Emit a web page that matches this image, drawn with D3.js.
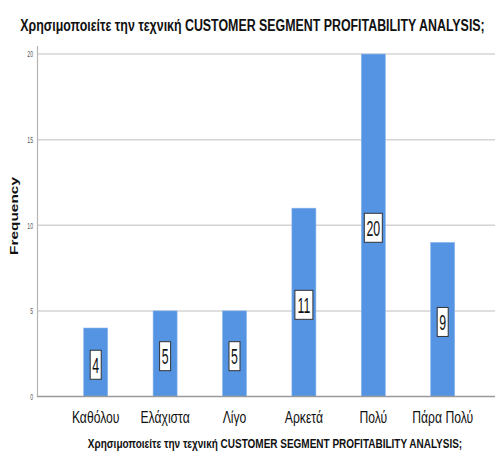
<!DOCTYPE html>
<html>
<head>
<meta charset="utf-8">
<script src="https://cdn.jsdelivr.net/npm/d3@7"></script>
<style>
  html, body { margin: 0; padding: 0; background: #fff; }
  svg { display: block; }
  text { font-family: "Liberation Sans", Arial, sans-serif; }
</style>
</head>
<body>
<svg id="chart" width="497" height="457"></svg>
<script>
// Frequency of answers per category
const categories = ["Καθόλου", "Ελάχιστα", "Λίγο", "Αρκετά", "Πολύ", "Πάρα Πολύ"];
const frequencies = [4, 5, 5, 11, 20, 9];
const yTicks = [0, 5, 10, 15, 20];
const titleText = "Χρησιμοποιείτε την τεχνική CUSTOMER SEGMENT PROFITABILITY ANALYSIS;";
const yAxisTitle = "Frequency";

const svg = d3.select("#chart");

// Place a text at (cx, cy), stretching it horizontally (in its own frame)
// either to a fixed width or by a factor of its natural width
function placeText(sel, cx, cy, opts) {
  sel.each(function (d, i) {
    const w = this.getComputedTextLength();
    const px = typeof cx === "function" ? cx(d, i) : cx;
    const k = opts.width ? opts.width / w : opts.factor;
    const rot = opts.rotate ? ` rotate(${opts.rotate})` : "";
    d3.select(this).attr("transform", `translate(${px},${cy})${rot} scale(${k},1)`);
  });
}

const x = d3.scaleBand()
  .domain(categories)
  .range([61, 477.4])
  .paddingInner(0.654)
  .paddingOuter(0.327);

const y = d3.scaleLinear()
  .domain([0, 20.5])
  .range([396.5, 45.5]);

// Gridlines
svg.append("g")
  .selectAll("line")
  .data(yTicks.filter(d => d > 0))
  .join("line")
  .attr("x1", 37).attr("x2", 495)
  .attr("y1", d => y(d)).attr("y2", d => y(d))
  .attr("stroke", "#d4d4d4")
  .attr("stroke-width", 1.5);

// Y axis
const yAxis = svg.append("g")
  .attr("transform", "translate(37,0)")
  .call(d3.axisLeft(y).tickValues(yTicks).tickSize(0).tickPadding(4));
yAxis.select(".domain").attr("stroke", "#b5b5b5").attr("stroke-width", 1.2);
yAxis.selectAll(".tick text")
  .attr("fill", "#555")
  .style("font-size", "8.5px")
  .style("font-family", "'Liberation Sans', Arial, sans-serif")
  .each(function () {
    const w = this.getComputedTextLength();
    d3.select(this).attr("textLength", w * 0.6).attr("lengthAdjust", "spacingAndGlyphs");
  });

// Bars
svg.append("g")
  .selectAll("rect")
  .data(frequencies)
  .join("rect")
  .attr("x", (d, i) => x(categories[i]))
  .attr("width", x.bandwidth())
  .attr("y", d => y(d))
  .attr("height", d => y(0) - y(d))
  .attr("fill", "#5494e2")
  .attr("stroke", "#8cb6ec")
  .attr("stroke-width", 0.6);

// Baseline
svg.append("line")
  .attr("x1", 37).attr("x2", 495)
  .attr("y1", y(0)).attr("y2", y(0))
  .attr("stroke", "#9a9a9a")
  .attr("stroke-width", 1.5);

// Value labels in boxes at the middle of each bar
const labels = svg.append("g")
  .selectAll("g")
  .data(frequencies)
  .join("g")
  .attr("transform", (d, i) => `translate(${x(categories[i]) + x.bandwidth() / 2},${y(d / 2) + 2.5})`);

labels.append("rect")
  .attr("x", d => -(String(d).length * 7 + 4) / 2)
  .attr("width", d => String(d).length * 7 + 4)
  .attr("y", -14.5)
  .attr("height", 29)
  .attr("fill", "#fff")
  .attr("stroke", "#333")
  .attr("stroke-width", 1);

labels.append("text")
  .text(d => d)
  .attr("text-anchor", "middle")
  .attr("fill", "#111")
  .style("font-size", "22px")
  .call(placeText, 0, 8, { factor: 0.56 });

// Category labels
svg.append("g")
  .selectAll("text")
  .data(categories)
  .join("text")
  .text(d => d)
  .attr("text-anchor", "middle")
  .attr("fill", "#111")
  .style("font-size", "16px")
  .call(placeText, d => x(d) + x.bandwidth() / 2, 422.5, { factor: 0.76 });

// Chart title
svg.append("text")
  .text(titleText)
  .attr("text-anchor", "middle")
  .attr("fill", "#111")
  .style("font-size", "17px")
  .style("font-weight", "bold")
  .call(placeText, 252.5, 30.5, { width: 465 });

// X axis title
svg.append("text")
  .text(titleText)
  .attr("text-anchor", "middle")
  .attr("fill", "#111")
  .style("font-size", "12.5px")
  .style("font-weight", "bold")
  .call(placeText, 275, 447.5, { width: 375 });

// Y axis title
svg.append("text")
  .text(yAxisTitle)
  .attr("text-anchor", "middle")
  .attr("fill", "#111")
  .style("font-size", "10.5px")
  .style("font-weight", "bold")
  .call(placeText, 17.5, 216, { width: 78, rotate: -90 });
</script>
</body>
</html>
